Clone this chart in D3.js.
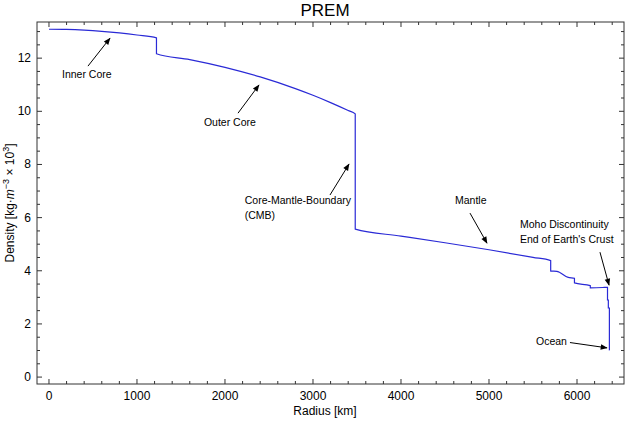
<!DOCTYPE html><html><head><meta charset="utf-8"><script src="https://cdn.jsdelivr.net/npm/d3@7"></script>
<style>body{margin:0;background:#fff}text{font-family:"Liberation Sans",Arial,sans-serif}</style></head><body><svg id="c" width="640" height="422"></svg>
<script>
const radius  = [0,200,400,600,800,1000,1221.5,1221.5,1600,2000,2400,2800,3000,3200,3400,3480,3480,4000,4500,5000,5500,5701,5701,5771,5900,5971,5971,6151,6151,6291,6346.6,6346.6,6356,6356,6368,6368,6371];
const density = [13.088,13.080,13.054,13.010,12.949,12.871,12.763,12.166,11.947,11.655,11.293,10.853,10.602,10.327,10.029,9.904,5.566,5.307,5.055,4.790,4.504,4.381,3.99,3.98,3.75,3.72,3.543,3.44,3.36,3.37,3.38,2.9,2.9,2.6,2.6,1.02,1.02];
const xTicks = [0,1000,2000,3000,4000,5000,6000];
const yTicks = [0,2,4,6,8,10,12];
const notes = [
 {lines:["Inner Core"], tx:148, ty:11.25, ax1:443, ay1:11.7, ax2:693, ay2:12.75},
 {lines:["Outer Core"], tx:1761, ty:9.44, ax1:2148, ay1:9.93, ax2:2386, ay2:10.99},
 {lines:["Core-Mantle-Boundary","(CMB)"], tx:2225, ty:6.5, ax1:3193, ay1:6.85, ax2:3409, ay2:8.01},
 {lines:["Mantle"], tx:4614, ty:6.5, ax1:4784, ay1:6.17, ax2:4977, ay2:5.04},
 {lines:["Moho Discontinuity","End of Earth's Crust"], tx:5352, ty:5.6, ax1:6261, ay1:4.7, ax2:6364, ay2:3.46},
 {lines:["Ocean"], tx:5534, ty:1.2, ax1:5920, ay1:1.3, ax2:6341, ay2:1.1}
];
const svg=d3.select("#c");
const L=37,R=624,T=22,B=384;
const x=d3.scaleLinear().domain([-136,6534]).range([L,R]);
const y=d3.scaleLinear().domain([-0.26,13.36]).range([B,T]);
svg.append("defs").append("marker").attr("id","ar").attr("viewBox","0 0 10 10").attr("refX",9).attr("refY",5)
 .attr("markerWidth",9).attr("markerHeight",7).attr("orient","auto").append("path").attr("d","M0,1L10,5L0,9z").attr("fill","#000");
svg.append("rect").attr("x",L).attr("y",T).attr("width",R-L).attr("height",B-T).attr("fill","none").attr("stroke","#333");
const minorX=d3.range(0,6501,200), minorY=d3.range(0,13.01,0.5);
const g=svg.append("g").attr("stroke","#333");
minorX.forEach(v=>{const l=xTicks.includes(v)?5:3;g.append("line").attr("x1",x(v)).attr("x2",x(v)).attr("y1",B).attr("y2",B-l);g.append("line").attr("x1",x(v)).attr("x2",x(v)).attr("y1",T).attr("y2",T+l);});
minorY.forEach(v=>{const l=yTicks.includes(v)?5:3;g.append("line").attr("y1",y(v)).attr("y2",y(v)).attr("x1",L).attr("x2",L+l);g.append("line").attr("y1",y(v)).attr("y2",y(v)).attr("x1",R).attr("x2",R-l);});
xTicks.forEach(v=>svg.append("text").attr("x",x(v)).attr("y",B+16).attr("text-anchor","middle").attr("font-size",12).text(v));
yTicks.forEach(v=>svg.append("text").attr("x",L-6).attr("y",y(v)+4).attr("text-anchor","end").attr("font-size",12).text(v));
svg.append("path").datum(radius.map((r,i)=>[r,density[i]])).attr("d",d3.line().curve(d3.curveMonotoneX).x(d=>x(d[0])).y(d=>y(d[1])))
 .attr("fill","none").attr("stroke","#2a2ad6").attr("stroke-width",1.2);
notes.forEach(n=>{
 n.lines.forEach((s,i)=>svg.append("text").attr("x",x(n.tx)).attr("y",y(n.ty)+i*15).attr("font-size",10.5).text(s));
 svg.append("line").attr("x1",x(n.ax1)).attr("y1",y(n.ay1)).attr("x2",x(n.ax2)).attr("y2",y(n.ay2)).attr("stroke","#000").attr("marker-end","url(#ar)");
});
svg.append("text").attr("x",325).attr("y",16).attr("text-anchor","middle").attr("font-size",17).text("PREM");
svg.append("text").attr("x",325).attr("y",415).attr("text-anchor","middle").attr("font-size",12).text("Radius [km]");
const yl=svg.append("text").attr("transform","translate(14,203) rotate(-90)").attr("text-anchor","middle").attr("font-size",12);
yl.append("tspan").text("Density [kg·");yl.append("tspan").attr("font-style","italic").text("m");
yl.append("tspan").attr("dy",-5).attr("font-size",9).text("−3");yl.append("tspan").attr("dy",5).text(" × 10");
yl.append("tspan").attr("dy",-5).attr("font-size",9).text("3");yl.append("tspan").attr("dy",5).text("]");
</script></body></html>
